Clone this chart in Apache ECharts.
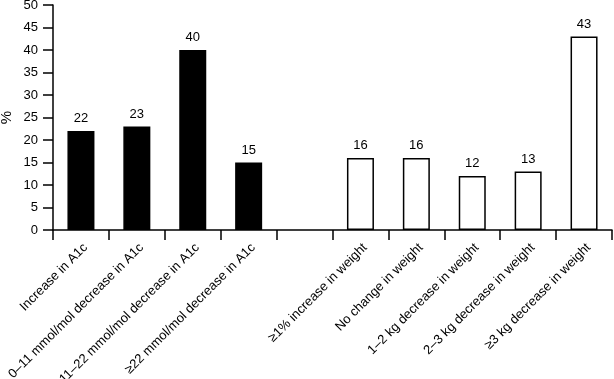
<!DOCTYPE html>
<html lang="en">
<head>
<meta charset="UTF-8">
<style>
html, body { height: 100%; margin: 0; background: #fff; }
</style>
</head>
<body>
<div id="chart" style="width:614px;height:379px;"></div>
<script src="https://cdn.jsdelivr.net/npm/echarts@6/dist/echarts.min.js"></script>
<script>
var a1cLabels = ['Increase in A1c', '0\u201311 mmol/mol decrease in A1c', '11\u201322 mmol/mol decrease in A1c', '\u226522 mmol/mol decrease in A1c'];
var a1cValues = [22, 23, 40, 15];
var weightLabels = ['\u22651% increase in weight', 'No change in weight', '1\u20132 kg decrease in weight', '2\u20133 kg decrease in weight', '\u22653 kg decrease in weight'];
var weightValues = [16, 16, 12, 13, 43];
var yTicks = [0, 50, 5];

// empty slot between the two groups
var categories = a1cLabels.concat([''], weightLabels);
var barData = [];
a1cValues.forEach(function (v) {
    barData.push({ value: v, itemStyle: { color: '#000', borderColor: '#000', borderWidth: 1.5 } });
});
barData.push('-');
weightValues.forEach(function (v) {
    barData.push({ value: v, itemStyle: { color: '#fff', borderColor: '#000', borderWidth: 1.5 } });
});

var font = 'Liberation Sans';
var chart = echarts.init(document.getElementById('chart'));
chart.setOption({
    animation: false,
    grid: { left: 53, right: 2, top: 5, bottom: 149, containLabel: false, outerBoundsMode: 'none' },
    xAxis: {
        type: 'category',
        data: categories,
        axisLine: { lineStyle: { color: '#000', width: 1.5 } },
        axisTick: { show: true, alignWithLabel: false, length: 10, lineStyle: { color: '#000', width: 1.5 } },
        axisLabel: { rotate: 45, interval: 0, color: '#000', fontFamily: font, fontSize: 13, margin: 11, verticalAlign: 'top' }
    },
    yAxis: {
        type: 'value',
        min: yTicks[0], max: yTicks[1], interval: yTicks[2],
        name: '%',
        nameLocation: 'middle',
        nameGap: 39,
        nameMoveOverlap: false,
        nameRotate: 90,
        nameTextStyle: { color: '#000', fontFamily: font, fontSize: 15 },
        splitLine: { show: false },
        axisLine: { show: true, lineStyle: { color: '#000', width: 1.5 } },
        axisTick: { show: true, length: 10, lineStyle: { color: '#000', width: 1.5 } },
        axisLabel: { color: '#000', fontFamily: font, fontSize: 13, margin: 15 }
    },
    series: [{
        type: 'bar',
        data: barData,
        barWidth: 27,
        label: { show: true, position: 'top', distance: 6, color: '#000', fontFamily: font, fontSize: 13 }
    }]
});
</script>
</body>
</html>
